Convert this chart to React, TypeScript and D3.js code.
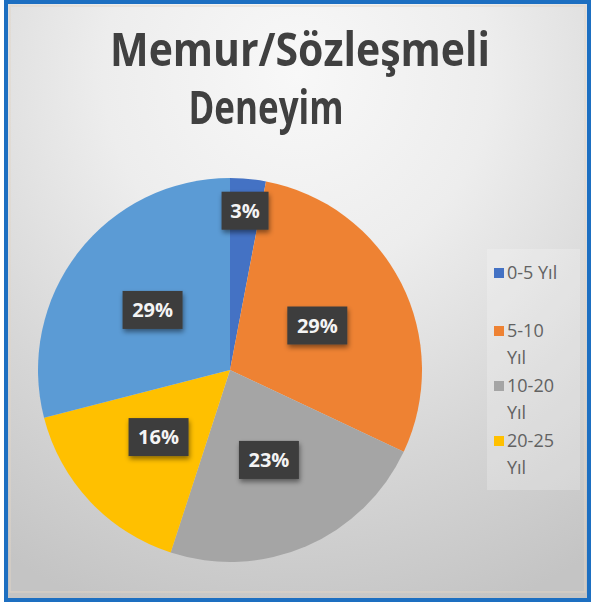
import React from "react";
import * as d3 from "d3";

const categories = ["0-5 Yıl", "5-10 Yıl", "10-20 Yıl", "20-25 Yıl", "25+ Yıl"];
const values = [3, 29, 23, 16, 29];
const colors = ["#4472C4", "#EE8233", "#A5A5A5", "#FFC000", "#5B9BD5"];
const legendLines = [["0-5 Yıl"], ["5-10", "Yıl"], ["10-20", "Yıl"], ["20-25", "Yıl"]];
const titleLines = ["Memur/Sözleşmeli", "Deneyim"];

const W = 591;
const H = 605;

export default function App() {
  const cx = 230;
  const cy = 370;
  const r = 192;
  const pie = d3.pie<number>().sort(null).value((d) => d)(values);
  const arc = d3.arc<d3.PieArcDatum<number>>().innerRadius(0).outerRadius(r);
  const labelArc = (d: d3.PieArcDatum<number>) => {
    const lr = d.data < 5 ? 160 : 98;
    return d3.arc<d3.PieArcDatum<number>>().innerRadius(lr).outerRadius(lr).centroid(d);
  };
  const total = d3.sum(values);

  const legendY = [273, 331, 358, 386, 413, 441, 468];
  let li = 0;

  return (
    <svg width={W} height={H} style={{ position: "absolute", left: 0, top: 0 }}
      fontFamily="'Open Sans', 'DejaVu Sans', sans-serif">
      <defs>
        <radialGradient id="bg" cx="50%" cy="12%" r="95%" fx="50%" fy="12%">
          <stop offset="0%" stopColor="#f8f8f8" />
          <stop offset="35%" stopColor="#ededed" />
          <stop offset="70%" stopColor="#d6d6d6" />
          <stop offset="100%" stopColor="#c4c4c4" />
        </radialGradient>
        <filter id="sh" x="-30%" y="-30%" width="160%" height="170%">
          <feDropShadow dx="1" dy="3" stdDeviation="2.5" floodColor="#000" floodOpacity="0.45" />
        </filter>
        <filter id="blur" x="-10%" y="-10%" width="120%" height="120%">
          <feGaussianBlur stdDeviation="0.4" />
        </filter>
      </defs>
      <rect x={0} y={0} width={W} height={H} fill="#ffffff" />
      <rect x={6} y={2} width={583} height={598} fill="url(#bg)" stroke="#1D6FC1" strokeWidth={4} />
      <rect x={10} y={6} width={575} height={586} fill="none" stroke="#e3d6c6" strokeWidth={1.5} opacity={0.6} />

      <g fill="#3f3f3f" fontWeight={700} textAnchor="middle" filter="url(#blur)">
        <text x={300} y={66} fontSize={46} textLength={380} lengthAdjust="spacingAndGlyphs">{titleLines[0]}</text>
        <text x={266} y={124} fontSize={46} textLength={155} lengthAdjust="spacingAndGlyphs">{titleLines[1]}</text>
      </g>

      <g transform={`translate(${cx},${cy})`}>
        {pie.map((d, i) => (
          <path key={i} d={arc(d) || ""} fill={colors[i]} />
        ))}
        {pie.map((d, i) => {
          const [x, y] = labelArc(d);
          const txt = `${Math.round((d.data / total) * 100)}%`;
          const bw = txt.length * 13 + 21;
          const bh = 38;
          return (
            <g key={"l" + i} transform={`translate(${x},${y})`}>
              <rect x={-bw / 2} y={-bh / 2} width={bw} height={bh} fill="#3d3d3d" filter="url(#sh)" />
              <text x={0} y={7} textAnchor="middle" fill="#f4f4f4" fontSize={20} fontWeight={700}>{txt}</text>
            </g>
          );
        })}
      </g>

      <rect x={487} y={249} width={93} height={241} fill="#ffffff" opacity={0.22} />
      <g fill="#626262" fontSize={18}>
        {legendLines.map((lines, i) => {
          const items = lines.map((t, k) => {
            const y = legendY[li++];
            return (
              <text key={k} x={507} y={y + 6}>{t}</text>
            );
          });
          const my = legendY[li - lines.length];
          return (
            <g key={i}>
              <rect x={494} y={my - 5} width={10} height={10} fill={colors[i]} />
              {items}
            </g>
          );
        })}
      </g>
    </svg>
  );
}
